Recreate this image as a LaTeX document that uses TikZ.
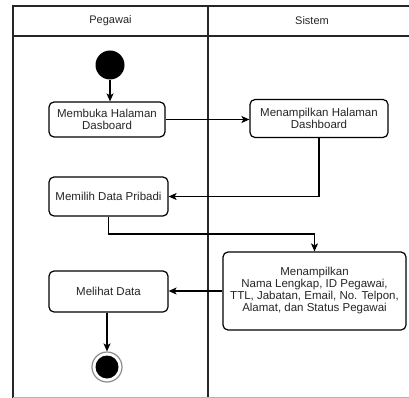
\documentclass[tikz,border=0pt]{standalone}
\usepackage{fontspec}
\setmainfont{Liberation Sans}
\usetikzlibrary{arrows.meta}
\begin{document}
\begin{tikzpicture}[x=1pt,y=-1pt,
  lane/.style={line width=1.6pt, black!85},
  act/.style={draw, line width=1.2pt, rounded corners=5pt, align=center,
    inner sep=2pt, font=\fontsize{11.5}{12}\selectfont, text=black!85},
  flow/.style={line width=1.2pt, -{Stealth[length=8pt,width=7pt,inset=2pt]}},
  lanehead/.style={font=\fontsize{11}{13}\selectfont, text=black!85}]
\useasboundingbox (0,0) rectangle (409,398);
\fill[white] (0,0) rectangle (409,398);

% swimlane frame
\draw[lane] (13,398) -- (13,6) -- (412,6);
\draw[lane] (13,36) -- (412,36);
\draw[lane] (208,6) -- (208,398);
\draw[line width=1pt, black!30] (13,397.5) -- (412,397.5);
\node[lanehead] (hp) at (110.5,21) {Pegawai};
\node[lanehead] (hs) at (312,21) {Sistem};

% activities
\node[circle, fill=black, minimum size=29pt, inner sep=0pt] (start) at (110,65) {};
\node[act, minimum width=116pt, minimum height=35pt] (b1) at (107,119.5) {Membuka Halaman\\Dasboard};
\node[act, minimum width=138pt, minimum height=38pt] (b2) at (319,118.5) {Menampilkan Halaman\\Dashboard};
\node[act, minimum width=119pt, minimum height=39pt] (b3) at (108.5,196.5) {Memilih Data Pribadi};
\node[act, minimum width=183pt, minimum height=78pt] (b4) at (314.5,291) {Menampilkan\\Nama Lengkap, ID Pegawai,\\TTL, Jabatan, Email, No. Telpon,\\Alamat, dan Status Pegawai};
\node[act, minimum width=119pt, minimum height=41pt] (b5) at (108.5,291.5) {Melihat Data};
\node[circle, draw=black!45, line width=1.2pt, minimum size=30pt, inner sep=0pt] (end) at (107,367) {};
\node[circle, fill=black, minimum size=23pt, inner sep=0pt] (endcore) at (end) {};

% control flow
\draw[flow] (start) -- (start |- b1.north);
\draw[flow] (b1.east) -- (b2.west |- b1.east);
\draw[flow] (b2.south) |- (b3.east);
\draw[flow] (b3.south) -- (b3.south |- 0,234) -| (b4.north);
\draw[flow] (b4.west) -- (b5.east |- b4.west);
\draw[flow] (end |- b5.south) -- (end.north);
\end{tikzpicture}
\end{document}
